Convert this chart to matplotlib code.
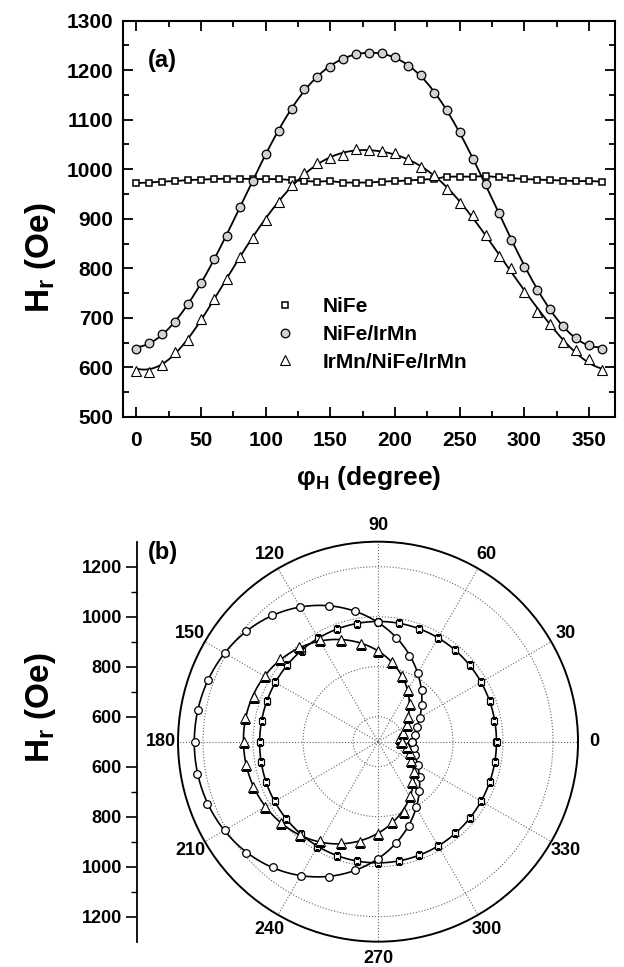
import numpy as np
import matplotlib.pyplot as plt
from matplotlib.ticker import MultipleLocator
from matplotlib.lines import Line2D

plt.rcParams['font.family'] = ['Liberation Sans', 'DejaVu Sans']
plt.rcParams['font.weight'] = 'bold'
plt.rcParams['mathtext.fontset'] = 'custom'
plt.rcParams['mathtext.rm'] = 'Liberation Sans:bold'
plt.rcParams['mathtext.default'] = 'rm'

# field angle phi_H (degree)
angle = np.arange(0, 361, 10)

# resonance field H_r (Oe)
nife = np.array([972, 973, 975, 976, 978, 979, 980, 981, 981, 980,
                 980, 980, 978, 976, 975, 976, 973, 973, 973, 975,
                 976, 977, 979, 980, 985, 985, 985, 986, 984, 982,
                 980, 979, 978, 977, 976, 976, 975])
nife_irmn = np.array([637, 649, 667, 692, 728, 771, 818, 866, 923, 977,
                      1030, 1078, 1122, 1161, 1187, 1206, 1223, 1233, 1234, 1234,
                      1226, 1208, 1190, 1153, 1119, 1075, 1021, 970, 912, 858,
                      803, 756, 717, 684, 659, 645, 637])
irmn_nife_irmn = np.array([593, 591, 605, 632, 656, 697, 739, 778, 823, 862,
                           897, 934, 968, 992, 1012, 1022, 1028, 1040, 1038, 1036,
                           1032, 1020, 1005, 988, 961, 931, 907, 868, 825, 800,
                           753, 712, 688, 652, 635, 616, 595])
labels = ['NiFe', 'NiFe/IrMn', 'IrMn/NiFe/IrMn']


def fourier_fit(deg, val, n=4):
    # least squares fit with a few harmonics, for the solid lines
    def basis(t):
        cols = [np.ones_like(t)]
        for k in range(1, n + 1):
            cols += [np.cos(k * t), np.sin(k * t)]
        return np.column_stack(cols)
    t = np.deg2rad(deg[:-1])
    coef = np.linalg.lstsq(basis(t), val[:-1], rcond=None)[0]
    tf = np.linspace(0, 2 * np.pi, 721)
    return np.rad2deg(tf), basis(tf) @ coef


fx, fit_c = fourier_fit(angle, nife_irmn)
fx, fit_t = fourier_fit(angle, irmn_nife_irmn)

fig = plt.figure(figsize=(6.24, 9.67), dpi=100)

# ---------------- (a) ----------------
ax = fig.add_axes([0.1976, 0.5688, 0.788, 0.41])
ax.plot(angle, nife, 'k-', lw=1.3)
ax.plot(fx, fit_c, 'k-', lw=1.3)
ax.plot(fx, fit_t, 'k-', lw=1.3)
ax.plot(angle, nife, 's', ms=5, mfc='white', mec='k', mew=1.1)
ax.plot(angle, nife_irmn, 'o', ms=6.2, mfc='#d2d2d2', mec='k', mew=0.9)
ax.plot(angle, irmn_nife_irmn, '^', ms=7.5, mfc='white', mec='k', mew=0.8)

ax.set_xlim(-10, 370)
ax.set_ylim(500, 1300)
ax.xaxis.set_major_locator(MultipleLocator(50))
ax.xaxis.set_minor_locator(MultipleLocator(25))
ax.yaxis.set_major_locator(MultipleLocator(100))
ax.yaxis.set_minor_locator(MultipleLocator(50))
ax.tick_params(which='both', direction='in', top=True, right=True,
               labelsize=15, width=1.3)
ax.tick_params(axis='x', pad=10)
ax.tick_params(axis='y', pad=7)
ax.tick_params(which='major', length=7)
ax.tick_params(which='minor', length=4)
for s in ax.spines.values():
    s.set_linewidth(1.5)
ax.text(0.05, 0.9, '(a)', transform=ax.transAxes, fontsize=17,
        ha='left', va='center')

handles = [Line2D([], [], ls='', marker='s', ms=5, mfc='white', mec='k', mew=1.1),
           Line2D([], [], ls='', marker='o', ms=6.2, mfc='#d2d2d2', mec='k', mew=0.9),
           Line2D([], [], ls='', marker='^', ms=7.5, mfc='white', mec='k', mew=0.8)]
ax.legend(handles, labels, loc='upper left', bbox_to_anchor=(0.308, 0.302),
          frameon=False, fontsize=15, handlelength=1.0, handletextpad=1.3,
          labelspacing=0.42, borderpad=0, borderaxespad=0)

fig.text(369 / 624, 1 - 478 / 967, r'φ$_\mathrm{H}$ (degree)', fontsize=19,
         ha='center', va='center')
fig.text(40 / 624, 1 - 258 / 967, r'H$_\mathrm{r}$ (Oe)', fontsize=24,
         rotation=90, ha='center', va='center')

# ---------------- (b) ----------------
r0, r1 = 500, 1300
axp = fig.add_axes([0.2853, 0.02616, 0.641, 0.4137], projection='polar')
th = np.deg2rad(angle)
thf = np.deg2rad(fx)
fx_s, fit_s = fourier_fit(angle, nife, n=2)
axp.plot(thf, fit_s, 'k-', lw=1.2)
axp.plot(thf, fit_c, 'k-', lw=1.2)
axp.plot(thf, fit_t, 'k-', lw=1.2)
axp.plot(th, nife, 's', ms=4.5, mfc='white', mec='k', mew=0.9)
axp.plot(th, nife_irmn, 'o', ms=5.5, mfc='white', mec='k', mew=0.9)
axp.plot(th, irmn_nife_irmn, '^', ms=6.5, mfc='white', mec='k', mew=0.8)

rgrid = [600, 800, 1000, 1200]
axp.set_ylim(r0, r1)
axp.set_rgrids(rgrid, labels=[''] * len(rgrid))
theta_ticks = np.arange(0, 360, 30)
axp.set_thetagrids(theta_ticks, labels=[str(a) for a in theta_ticks])
axp.set_xticks(np.deg2rad(np.arange(15, 360, 30)), minor=True)
axp.tick_params(axis='x', which='major', direction='in', length=0,
                pad=5, labelsize=13)
axp.tick_params(axis='x', which='minor', direction='in', length=5, width=1)
axp.grid(True, color='0.4', ls=':', lw=0.8)
axp.spines['polar'].set_linewidth(1.4)

# radial scale drawn to the left of the polar plot
axr = fig.add_axes([136.7 / 624, 0.02616, 0.0001, 0.4137])
axr.set_ylim(-(r1 - r0), r1 - r0)
pos = [r - r0 for r in rgrid]
axr.set_yticks([-p for p in pos[::-1]] + pos)
axr.set_yticklabels([str(r) for r in rgrid[::-1]] + [str(r) for r in rgrid])
axr.set_yticks([-600, -400, -200, 200, 400, 600], minor=True)
axr.tick_params(axis='y', which='major', direction='out', length=8,
                width=1.2, labelsize=13, pad=2.5)
axr.tick_params(axis='y', which='minor', direction='out', length=4, width=1)
axr.set_xticks([])
for k in ['top', 'right', 'bottom']:
    axr.spines[k].set_visible(False)
axr.spines['left'].set_linewidth(1.3)
axr.patch.set_visible(False)

fig.text(163 / 624, 1 - 553 / 967, '(b)', fontsize=17, ha='center', va='center')
fig.text(40 / 624, 1 - 708 / 967, r'H$_\mathrm{r}$ (Oe)', fontsize=24,
         rotation=90, ha='center', va='center')

fig.savefig('out.png', dpi=100)
